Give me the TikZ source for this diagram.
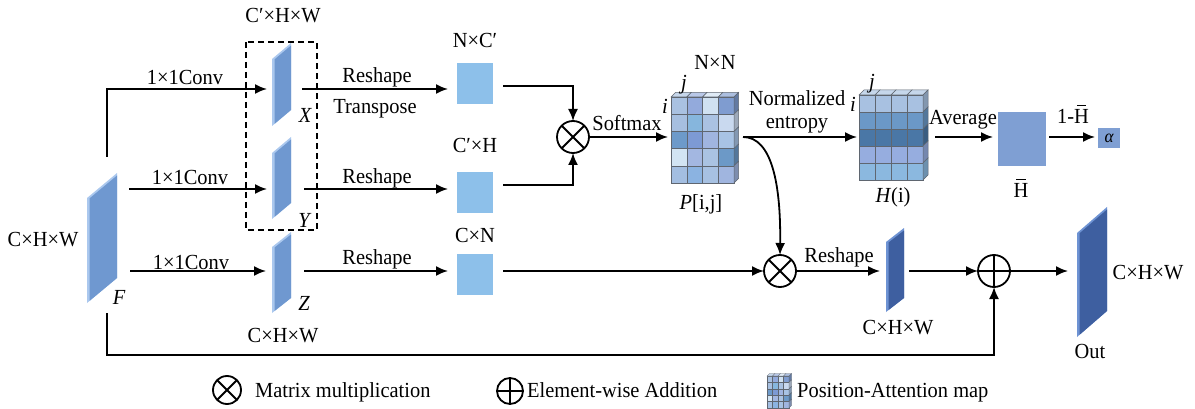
\documentclass[tikz,border=0pt]{standalone}
\usepackage{fontspec}
\setmainfont{Liberation Serif}[FakeStretch=0.95]
\usetikzlibrary{arrows.meta}
\definecolor{mapfront}{HTML}{6F98D0}
\definecolor{mapbevel}{HTML}{ABC8EE}
\definecolor{darkfront}{HTML}{3E5FA0}
\definecolor{darkbevel}{HTML}{6E93D3}
\definecolor{sqblue}{HTML}{8DC0EA}
\definecolor{hbblue}{HTML}{7F9FD3}
\definecolor{gridc}{HTML}{5F6670}
\newcommand{\Hbar}{\ooalign{H\cr\hidewidth\rule[0.8em]{0.42em}{0.06em}\hidewidth\cr}}
% slab: name, x1, x2, top-left y, drop d, height h, front, bevel
\newcommand{\slab}[8]{%
  \fill[#8] (#2,#4) -- (#3,{#4-#5}) -- (#3,{#4-#5+#6}) -- (#2,{#4+#6}) -- cycle;
  \fill[#7] ({#2+2.5},{#4-#5*2.5/(#3-#2)+2.5}) -- (#3,{#4-#5+2.5}) -- (#3,{#4-#5+#6}) -- ({#2+2.5},{#4+#6-#5*2.5/(#3-#2)}) -- cycle;
  \node[inner sep=0pt, minimum width={#3-#2}, minimum height={#6+#5}] (#1) at ({(#2+#3)/2},{#4+(#6-#5)/2}) {};
}
% grid matrix: x0, y0, cell w, cell h, depth, colours (20), line width
\newcommand{\gmat}[7]{%
  \edef\gmlist{#6}%
  \foreach[count=\ii from 0] \col in \gmlist{
    \pgfmathtruncatemacro{\mr}{\ii/4}
    \pgfmathtruncatemacro{\mc}{mod(\ii,4)}
    \definecolor{cc}{HTML}{\col}
    \filldraw[fill=cc, draw=gridc, line width=#7] ({#1+\mc*#3},{#2+\mr*#4}) rectangle ++(#3,#4);
    \ifnum\mr=0 \filldraw[fill=cc!65!white, draw=gridc, line width=#7] ({#1+\mc*#3},{#2}) -- ++(#5,-#5) -- ++(#3,0) -- ++(-#5,#5) -- cycle;\fi
    \ifnum\mc=3 \filldraw[fill=cc!78!black, draw=gridc, line width=#7] ({#1+4*#3},{#2+\mr*#4}) -- ++(#5,-#5) -- ++(0,#4) -- ++(-#5,#5) -- cycle;\fi
  }
}
\newcommand{\pcols}{A9C1E1,93AADC,D0E1F1,7F9CD0,A6BFE0,86B6DD,AAC2E2,C9D9EF,6D9ACA,7D9AD4,A0B5E0,A8C3E4,D2E4F3,A3B7E1,AAC3E2,6C99C7,A3BEE1,8BB3E1,A7C1E2,A0B5DF}
\newcommand{\hcols}{A8C1E1,A8C1E1,A8C1E1,A8C1E1,6B98C7,6B98C7,6B98C7,6B98C7,4A77A6,4A77A6,4A77A6,4A77A6,96ADDF,96ADDF,96ADDF,96ADDF,8BB8DF,8BB8DF,8BB8DF,8BB8DF}
\begin{document}
\begin{tikzpicture}[x=1pt,y=-1pt,
  lbl/.style={font=\fontsize{21.5}{25}\selectfont, inner sep=0pt, text height=14.2pt, text depth=0pt},
  ilbl/.style={lbl, font=\fontsize{21.5}{25}\selectfont\itshape},
  arr/.style={line width=1.8pt, -{Latex[length=12pt,width=10pt]}},
  op/.style={circle, draw, line width=1.8pt, minimum size=32pt, inner sep=0pt, outer sep=0pt},
  sqbox/.style={fill=sqblue, inner sep=0pt, minimum width=36pt, minimum height=41pt}]
\useasboundingbox (0,0) rectangle (1195,409);

% feature maps
\slab{Fm}{87}{117}{198}{25}{105}{mapfront}{mapbevel}
\slab{Xm}{272}{291}{59}{16}{67}{mapfront}{mapbevel}
\slab{Ym}{272}{291}{153}{16}{66}{mapfront}{mapbevel}
\slab{Zm}{272}{291}{247}{15}{66}{mapfront}{mapbevel}
\slab{Dm}{886}{904}{242}{14}{70}{darkfront}{darkbevel}
\slab{Om}{1077}{1107}{233}{26}{104}{darkfront}{darkbevel}

\draw[dashed, line width=1.4pt, dash pattern=on 6pt off 4pt] (246,42) rectangle (317,230);

% squares
\node[sqbox] (S1) at (475,83.5) {};
\node[sqbox] (S2) at (475,192.5) {};
\node[sqbox] (S3) at (475,274) {};
\node[fill=hbblue, inner sep=0pt, minimum width=48pt, minimum height=54pt] (Hb) at (1022,139) {};
\node[fill=hbblue, inner sep=0pt, minimum width=22pt, minimum height=20pt, font=\fontsize{18}{20}\selectfont\itshape] (al) at (1109,138) {α};

% matrices
\gmat{671}{97}{15.75}{17.2}{4.5}{\pcols}{0.5pt}
\node[inner sep=0pt, minimum width=63pt, minimum height=86pt] (Pm) at (702.5,140) {};
\gmat{859}{95}{16}{17}{5}{\hcols}{0.5pt}
\node[inner sep=0pt, minimum width=64pt, minimum height=85pt] (Hm) at (891,137.5) {};

% operators
\node[op] (M1) at (573,137) {};
\draw[line width=1.8pt] (M1.north east) -- (M1.south west) (M1.north west) -- (M1.south east);
\node[op] (M2) at (780,271) {};
\draw[line width=1.8pt] (M2.north east) -- (M2.south west) (M2.north west) -- (M2.south east);
\node[op] (A1) at (994,271) {};
\draw[line width=1.8pt] (A1.north) -- (A1.south) (A1.west) -- (A1.east);

% coordinates
\coordinate (Fup) at (107,157);
\coordinate (Fdn) at (107,313);
\coordinate (Fcor) at (107,355);
\coordinate (F2) at (129,189);
\coordinate (F3) at (130,271);
\coordinate (Xin) at (267,89);
\coordinate (Yin) at (267,189);
\coordinate (Zin) at (266,271);
\coordinate (Xout) at (302,89);
\coordinate (Yout) at (304,189);
\coordinate (Zout) at (304,271);
\coordinate (S1in) at (448,89);
\coordinate (S2in) at (448,189);
\coordinate (S3in) at (448,271);
\coordinate (S1out) at (503,86);
\coordinate (S2out) at (503,185);
\coordinate (S3out) at (503,271);
\coordinate (Pin) at (668,137);
\coordinate (Pout) at (743,137);
\coordinate (Hin) at (857,137);
\coordinate (Hout) at (935,137);
\coordinate (Hbin) at (993,137);
\coordinate (Hbout) at (1049,137);
\coordinate (alin) at (1095,137);
\coordinate (Din) at (880,271);
\coordinate (Dout) at (909,271);
\coordinate (Oin) at (1068,271);

% connectors
\draw[arr] (Fup) |- (Xin);
\draw[arr] (F2) -- (Yin);
\draw[arr] (F3) -- (Zin);
\draw[arr] (Fdn) -- (Fcor) -| (A1.south);
\draw[arr] (Xout) -- (S1in);
\draw[arr] (Yout) -- (S2in);
\draw[arr] (Zout) -- (S3in);
\draw[arr] (S1out) -| (M1.north);
\draw[arr] (S2out) -| (M1.south);
\draw[arr] (M1.east) -- (Pin);
\draw[arr] (Pout) -- (Hin);
\draw[arr] (Pout) .. controls (772,137) and (781,185) .. (M2.north);
\draw[arr] (S3out) -- (M2.west);
\draw[arr] (M2.east) -- (Din);
\draw[arr] (Dout) -- (A1.west);
\draw[arr] (A1.east) -- (Oin);
\draw[arr] (Hout) -- (Hbin);
\draw[arr] (Hbout) -- (alin);

% labels
\node[lbl] (tF) at (43,239) {C×H×W};
\node[ilbl] (tFn) at (119,297) {F};
\node[lbl] (c1) at (185,77) {1×1Conv};
\node[lbl] (c2) at (190,177) {1×1Conv};
\node[lbl] (c3) at (191,262) {1×1Conv};
\node[lbl] (tX0) at (283,15) {C′×H×W};
\node[ilbl] (tX) at (305,115) {X};
\node[ilbl] (tY) at (304,220) {Y};
\node[ilbl] (tZ) at (304,303) {Z};
\node[lbl] (tZ0) at (283,335) {C×H×W};
\node[lbl] (r1) at (377,75) {Reshape};
\node[lbl] (r1b) at (375,106) {Transpose};
\node[lbl] (r2) at (377,176) {Reshape};
\node[lbl] (r3) at (377,257) {Reshape};
\node[lbl] (tS1) at (475,40) {N×C′};
\node[lbl] (tS2) at (475,145) {C′×H};
\node[lbl] (tS3) at (475,235) {C×N};
\node[lbl] (sm) at (627,123) {Softmax};
\node[ilbl] (pj) at (684,82) {j};
\node[ilbl] (pi) at (665,106) {i};
\node[lbl] (tNN) at (715,62) {N×N};
\node[lbl] (tP) at (701,202) {\textit{P}[i,j]};
\node[lbl] (ne1) at (797,98) {Normalized};
\node[lbl] (ne2) at (797,121) {entropy};
\node[ilbl] (hj) at (872,81) {j};
\node[ilbl] (hi) at (853,104) {i};
\node[lbl] (tH) at (893,195) {\textit{H}(i)};
\node[lbl] (av) at (963,117) {Average};
\node[lbl] (tHb) at (1021,190) {\Hbar};
\node[lbl] (tom) at (1073,116) {1-\Hbar};
\node[lbl] (r4) at (839,255) {Reshape};
\node[lbl] (tD) at (898,327) {C×H×W};
\node[lbl] (tO) at (1090,351) {Out};
\node[lbl] (tO2) at (1148,272) {C×H×W};

% legend
\node[op, minimum size=28pt] (L1) at (227,390) {};
\draw[line width=1.8pt] (L1.north east) -- (L1.south west) (L1.north west) -- (L1.south east);
\node[lbl, anchor=west] (lt1) at (255,390) {Matrix multiplication};
\node[op, minimum size=26pt] (L2) at (510,391) {};
\draw[line width=1.8pt] (L2.north) -- (L2.south) (L2.west) -- (L2.east);
\node[lbl, anchor=west] (lt2) at (527,390) {Element-wise Addition};
\gmat{767}{376}{5.5}{6.4}{2.5}{\pcols}{0.3pt}
\node[lbl, anchor=west] (lt3) at (797,390) {Position-Attention map};
\end{tikzpicture}
\end{document}
